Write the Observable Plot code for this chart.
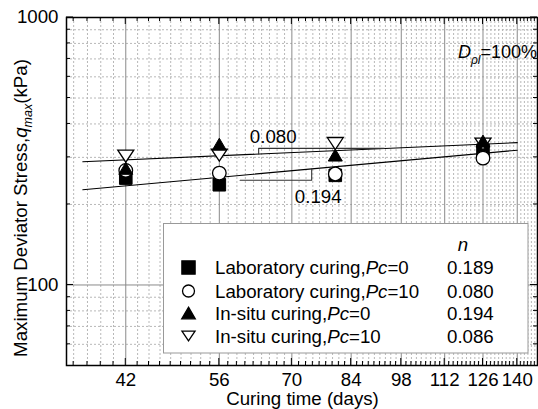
<!DOCTYPE html>
<html><head><meta charset="utf-8">
<script src="https://cdn.jsdelivr.net/npm/d3@7"></script>
<script src="https://cdn.jsdelivr.net/npm/@observablehq/plot@0.6"></script>
<style>
body{margin:0;background:#fff;}
#wrap{width:538px;height:409px;}
</style></head><body><div id="wrap"></div>
<script>
// ---- data ----
const days = [42, 56, 80, 126];
const labPc0 = [251, 237, 257, 319];
const labPc10 = [268, 262, 260, 298];
const insituPc0 = [273, 336, 306, 345];
const insituPc10 = [303, 306, 338, 336];
const seriesNames = ["Laboratory curing,", "Laboratory curing,", "In-situ curing,", "In-situ curing,"];
const seriesPc = ["=0", "=10", "=0", "=10"];
const nValues = ["0.189", "0.080", "0.194", "0.086"];
const xTicks = [42, 56, 70, 84, 98, 112, 126, 140];
const yTicks = [100, 1000];
const minorYVals = [60, 70, 80, 90, 200, 300, 400, 500, 600, 700, 800, 900];
const fitUpperDays = [36.8, 140];
const fitUpperQ = [289, 340.5];
const fitLowerDays = [36.8, 140];
const fitLowerQ = [227, 319];
const bracketUpperDays = [63.2, 63.2, 93];
const bracketUpperQ = [309, 324, 324];
const bracketLowerDays = [59.7, 74.4, 74.4];
const bracketLowerQ = [246.5, 246.5, 272];
const annoDays = [66.1, 75.9];
const annoQ = [357, 213];
const annoText = ["0.080", "0.194"];

const FONT = "'Liberation Sans', Arial, sans-serif";
const FS = 18.7;
const zip = (xs, ys) => xs.map((t, i) => ({t, q: ys[i]}));
const minorX = d3.range(-6, 70).map(k => 42 + k * 14 / 9).filter(v => v > 35.1 && v < 149 && !xTicks.some(m => Math.abs(m - v) < 1e-6));

// custom symbols (bbox centred)
const symSquare = {draw(c) { const s = 6.3; c.moveTo(-s, -s); c.lineTo(s, -s); c.lineTo(s, s); c.lineTo(-s, s); c.closePath(); }};
const symCircle = {draw(c) { const r = 6.8; c.moveTo(r, 0); c.arc(0, 0, r, 0, 2 * Math.PI); }};
const symUp = {draw(c) { c.moveTo(0, -6); c.lineTo(7, 6); c.lineTo(-7, 6); c.closePath(); }};
const symDown = {draw(c) { c.moveTo(-8, -6); c.lineTo(8, -6); c.lineTo(0, 6); c.closePath(); }};

const plot = Plot.plot({
  width: 538, height: 409,
  marginLeft: 66, marginRight: 1, marginTop: 17, marginBottom: 44,
  style: {fontFamily: FONT, fontSize: FS + "px", color: "black", background: "white", overflow: "visible"},
  x: {type: "log", domain: [35, 149], label: null},
  y: {type: "log", domain: [50, 1000], label: null},
  marks: [
    Plot.ruleX(minorX, {stroke: "#b8b8b8", strokeDasharray: "2,2", strokeWidth: 1}),
    Plot.ruleY(minorYVals, {stroke: "#b8b8b8", strokeDasharray: "2,2", strokeWidth: 1}),
    Plot.ruleX(xTicks, {stroke: "#8a8a8a", strokeWidth: 1}),
    Plot.ruleY([100], {stroke: "#8a8a8a", strokeWidth: 1}),
    Plot.axisX({ticks: xTicks, tickSize: 0, tickPadding: 7, tickFormat: d => `${d}`, label: null, fontSize: FS}),
    Plot.axisY({ticks: yTicks, tickSize: 0, tickPadding: 8, tickFormat: d => `${d}`, label: null, fontSize: FS}),
    Plot.line(zip(fitUpperDays, fitUpperQ), {x: "t", y: "q", stroke: "black", strokeWidth: 1.1}),
    Plot.line(zip(fitLowerDays, fitLowerQ), {x: "t", y: "q", stroke: "black", strokeWidth: 1.1}),
    Plot.line(zip(bracketUpperDays, bracketUpperQ), {x: "t", y: "q", stroke: "#333", strokeWidth: 1.1}),
    Plot.line(zip(bracketLowerDays, bracketLowerQ), {x: "t", y: "q", stroke: "#333", strokeWidth: 1.1}),
    Plot.text(annoText.map((s, i) => ({t: annoDays[i], q: annoQ[i], s})), {x: "t", y: "q", text: "s", fontSize: FS, fill: "black"}),
    Plot.dot(zip(days, labPc0), {x: "t", y: "q", symbol: symSquare, fill: "black", stroke: "black", strokeWidth: 1}),
    Plot.dot(zip(days, labPc10), {x: "t", y: "q", symbol: symCircle, fill: "white", stroke: "black", strokeWidth: 1.3}),
    Plot.dot(zip(days, insituPc10), {x: "t", y: "q", symbol: symDown, fill: "white", stroke: "black", strokeWidth: 1.3}),
    Plot.dot(zip(days, insituPc0), {x: "t", y: "q", symbol: symUp, fill: "black", stroke: "black", strokeWidth: 1}),
    Plot.frame({stroke: "black", strokeWidth: 1.5})
  ]
});
document.getElementById("wrap").appendChild(plot);

const sx = plot.scale("x"), sy = plot.scale("y");
const svg = d3.select(plot);
const L = 66, R = 537, T = 17, B = 365;
const tk = svg.append("g").attr("stroke", "black").attr("stroke-width", 1);
function tickX(v, len) {
  const x = sx.apply(v);
  tk.append("line").attr("x1", x).attr("x2", x).attr("y1", B).attr("y2", B - len);
  tk.append("line").attr("x1", x).attr("x2", x).attr("y1", T).attr("y2", T + len);
}
function tickY(v, len) {
  const y = sy.apply(v);
  tk.append("line").attr("y1", y).attr("y2", y).attr("x1", L).attr("x2", L + len);
  tk.append("line").attr("y1", y).attr("y2", y).attr("x1", R).attr("x2", R - len);
}
minorX.forEach(v => tickX(v, 4));
xTicks.forEach(v => tickX(v, 7));
minorYVals.forEach(v => tickY(v, 4));
yTicks.forEach(v => tickY(v, 7));

// axis titles
svg.append("text").attr("x", (L + R) / 2 + 1).attr("y", 405).attr("text-anchor", "middle")
  .attr("font-family", FONT).attr("font-size", FS).text("Curing time (days)");
const yt = svg.append("text").attr("transform", "translate(27,208) rotate(-90)").attr("text-anchor", "middle")
  .attr("font-family", FONT).attr("font-size", FS);
yt.append("tspan").text("Maximum Deviator Stress,");
yt.append("tspan").attr("font-style", "italic").text("q");
yt.append("tspan").attr("font-style", "italic").attr("font-size", 12.5).attr("dy", 5).text("max");
yt.append("tspan").attr("dy", -5).text("(kPa)");

// D annotation
const dt = svg.append("text").attr("x", 458).attr("y", 58).attr("text-anchor", "start")
  .attr("font-family", FONT).attr("font-size", 18);
dt.append("tspan").attr("font-style", "italic").text("D");
dt.append("tspan").attr("font-style", "italic").attr("font-size", 12).attr("dy", 6).text("ρl");
dt.append("tspan").attr("dy", -6).text("=100%");

// legend
const lg = svg.append("g").attr("font-family", FONT).attr("font-size", FS).attr("text-anchor", "start");
lg.append("rect").attr("x", 163.5).attr("y", 223.5).attr("width", 364.5).attr("height", 129.5)
  .attr("fill", "white").attr("stroke", "#999").attr("stroke-width", 1);
lg.append("text").attr("x", 463).attr("y", 251).attr("text-anchor", "middle").attr("font-style", "italic").text("n");
const rowsY = [267.5, 291, 313, 336];
const legSyms = [
  {s: symSquare, fill: "black", sc: 1.05},
  {s: symCircle, fill: "white", sc: 0.88},
  {s: symUp, fill: "black", sc: 0.97},
  {s: symDown, fill: "white", sc: 0.82}
];
rowsY.forEach((y, i) => {
  const p = d3.path(); legSyms[i].s.draw(p);
  lg.append("path").attr("d", p.toString())
    .attr("transform", `translate(188.5,${y}) scale(${legSyms[i].sc})`)
    .attr("fill", legSyms[i].fill).attr("stroke", "black").attr("stroke-width", 1.3 / legSyms[i].sc);
  const t = lg.append("text").attr("x", 215).attr("y", y + 6.5).attr("text-anchor", "start");
  t.append("tspan").text(seriesNames[i]);
  t.append("tspan").attr("font-style", "italic").text("Pc");
  t.append("tspan").text(seriesPc[i]);
  lg.append("text").attr("x", 447).attr("y", y + 6.5).attr("text-anchor", "start").text(nValues[i]);
});
</script>
</body></html>
